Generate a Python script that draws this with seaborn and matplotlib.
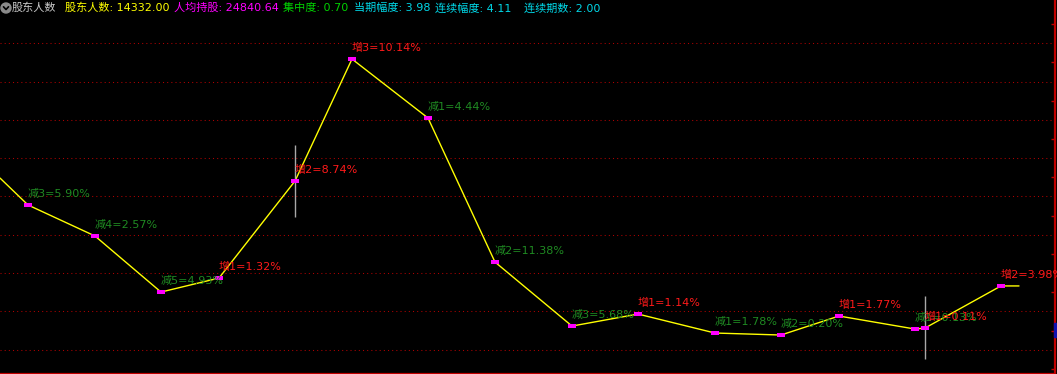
import matplotlib
matplotlib.use("Agg")
import matplotlib.pyplot as plt
from matplotlib.patches import Ellipse, Rectangle
from matplotlib.lines import Line2D
import seaborn as sns
import pandas as pd

# ---------------- data ----------------
day_index = [0, 28, 95, 161, 219, 295, 352, 428, 495, 572, 638, 715, 781, 839, 915, 925, 1001, 1019]
holders = [15741, 15389, 14984, 14252, 14435, 15702, 17295, 16525, 14644, 13808,
           13965, 13717, 13691, 13939, 13769, 13782, 14332, 14332]
point_labels = [None, "减3=5.90%", "减4=2.57%", "减5=4.93%", "增1=1.32%", "增2=8.74%",
                "增3=10.14%", "减1=4.44%", "减2=11.38%", "减3=5.68%", "增1=1.14%",
                "减1=1.78%", "减2=0.20%", "增1=1.77%", "减1=0.13%", "增1=0.11%",
                "增2=3.98%", None]
grid_values = [17500, 17000, 16500, 16000, 15500, 15000, 14500, 14000, 13500]
minor_values = [17750, 17250, 16750, 16250, 15750, 15250, 14750, 14250, 13750, 13250]
cross_x = [295, 925]
cross_ranges = [(15232, 16172), (13377, 14200)]

header_names = ["股东人数", "人均持股", "集中度", "当期幅度", "连续幅度", "连续期数"]
header_values = ["14332.00", "24840.64", "0.70", "3.98", "4.11", "2.00"]
header_colors = ["#FFFF00", "#FF00FF", "#00D000", "#00D8E8", "#00D8E8", "#00D8E8"]
header_x = [65, 174, 283, 354, 435, 524]

# ---------------- figure ----------------
W, H = 1057, 374
sns.set_theme(style="dark")
plt.rcParams['font.family'] = ['DejaVu Sans', 'Noto Sans CJK SC']
fig = plt.figure(figsize=(W / 100, H / 100), dpi=100, facecolor="black")
ax = fig.add_axes([0, 0, 1055 / W, 1])
ax.set_facecolor("black")

df = pd.DataFrame({"x": day_index, "y": holders})
sns.lineplot(data=df, x="x", y="y", sort=False, estimator=None, color="#FFFF00",
             linewidth=1.0, ax=ax)

mk = pd.DataFrame({"x": day_index[1:-1], "y": holders[1:-1]})
rect_marker = [(-1, -0.43), (1, -0.43), (1, 0.43), (-1, 0.43), (-1, -0.43)]
sns.scatterplot(data=mk, x="x", y="y", marker=rect_marker, s=26, color="#FF00FF",
                linewidth=0, ax=ax, zorder=4)

for (x0, (ya, yb)) in zip(cross_x, cross_ranges):
    ax.vlines(x0, ya, yb, color="#A8A8A8", linewidth=1.0, zorder=3)

for x, y, lab in zip(day_index, holders, point_labels):
    if lab is None:
        continue
    col = "#FF1A1A" if lab.startswith("增") else "#1F8A22"
    t = ax.annotate(lab, (x, y), xytext=(0, 11), textcoords="offset pixels",
                    ha="left", va="center", fontsize=8, color=col, zorder=5,
                    annotation_clip=False)
    t.set_clip_on(True)

ax.set_xlim(0, 1055)
ax.set_ylim(13182, 18066)
ax.set_yticks(grid_values)
ax.set_yticks(minor_values, minor=True)
ax.grid(False)
for gv in grid_values:
    ax.axhline(gv, color="#B00000", linewidth=0.75, linestyle=(0, (1, 3)), zorder=1)
ax.yaxis.tick_right()
ax.tick_params(axis="y", which="major", length=0, labelright=False, labelleft=False)
ax.tick_params(axis="y", which="minor", direction="in", length=3, width=1,
               color="#C00000", right=True, left=False)
ax.tick_params(axis="x", bottom=False, labelbottom=False)
ax.set_xlabel("")
ax.set_ylabel("")
for side in ["left", "top"]:
    ax.spines[side].set_visible(False)
for side in ["right", "bottom"]:
    ax.spines[side].set_visible(True)
    ax.spines[side].set_color("#C00000")
    ax.spines[side].set_linewidth(1.6)

# small blue price tag at right edge
fig.add_artist(Rectangle((1054 / W, 1 - 337 / H), 3 / W, 14 / H,
                         transform=fig.transFigure, color="#1010B0", zorder=6))

# ---------------- header ----------------
fig.add_artist(Ellipse((6 / W, 1 - 8 / H), 10 / W, 10 / H, transform=fig.transFigure,
                       color="#8A8A8A"))
fig.add_artist(Line2D([3.5 / W, 6 / W, 8.5 / W], [1 - 6.8 / H, 1 - 9.5 / H, 1 - 6.8 / H],
                      transform=fig.transFigure, color="black", linewidth=1.2))
fig.text(12 / W, 1 - 8 / H, "股东人数", color="#C8C8C8", fontsize=8, ha="left", va="center")
for xp, name, val, col in zip(header_x, header_names, header_values, header_colors):
    fig.text(xp / W, 1 - 8 / H, f"{name}: {val}", color=col, fontsize=8,
             ha="left", va="center")

fig.savefig("out.png", dpi=100, facecolor="black")
